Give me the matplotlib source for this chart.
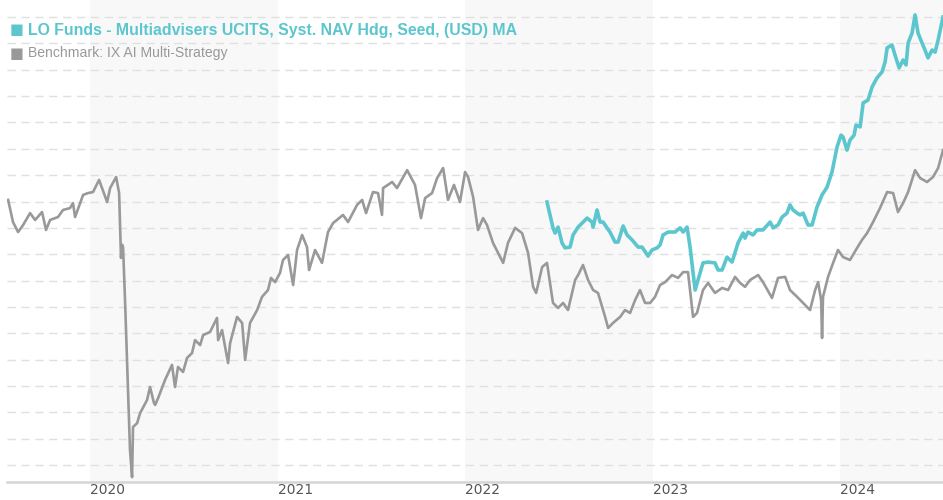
import matplotlib
matplotlib.use("Agg")
import matplotlib.pyplot as plt
import numpy as np

# ---- data (decimal years, index values) ----
bench_t = [2019.563, 2019.589, 2019.616, 2019.643, 2019.680, 2019.707, 2019.744, 2019.765, 2019.787,
           2019.829, 2019.856, 2019.893, 2019.909, 2019.920, 2019.963, 2019.989, 2020.016, 2020.048,
           2020.091, 2020.107, 2020.139, 2020.155, 2020.163, 2020.165, 2020.171, 2020.176, 2020.187,
           2020.213, 2020.224, 2020.229, 2020.251, 2020.267, 2020.304, 2020.320, 2020.341, 2020.347,
           2020.363, 2020.400, 2020.437, 2020.453, 2020.469, 2020.496, 2020.517, 2020.544, 2020.560,
           2020.587, 2020.603, 2020.640, 2020.677, 2020.683, 2020.704, 2020.736, 2020.747, 2020.784,
           2020.811, 2020.827, 2020.853, 2020.891, 2020.917, 2020.949, 2020.965, 2020.987, 2021.013,
           2021.029, 2021.056, 2021.083, 2021.104, 2021.131, 2021.157, 2021.168, 2021.200, 2021.237,
           2021.269, 2021.296, 2021.349, 2021.376, 2021.424, 2021.451, 2021.472, 2021.509, 2021.536,
           2021.557, 2021.563, 2021.611, 2021.637, 2021.691, 2021.733, 2021.765, 2021.787, 2021.824,
           2021.851, 2021.883, 2021.909, 2021.941, 2021.973, 2022.000, 2022.016, 2022.043, 2022.069,
           2022.096, 2022.117, 2022.149, 2022.203, 2022.229, 2022.267, 2022.304, 2022.336, 2022.363,
           2022.379, 2022.411, 2022.437, 2022.453, 2022.469, 2022.496, 2022.523, 2022.549, 2022.587,
           2022.603, 2022.629, 2022.656, 2022.683, 2022.709, 2022.747, 2022.763, 2022.789, 2022.827,
           2022.853, 2022.880, 2022.907, 2022.933, 2022.960, 2022.987, 2023.013, 2023.040, 2023.067,
           2023.104, 2023.136, 2023.163, 2023.189, 2023.200, 2023.216, 2023.237, 2023.269, 2023.296,
           2023.333, 2023.371, 2023.403, 2023.440, 2023.467, 2023.493, 2023.520, 2023.563, 2023.589,
           2023.637, 2023.669, 2023.707, 2023.733, 2023.771, 2023.803, 2023.840, 2023.867, 2023.883,
           2023.899, 2023.904, 2023.909, 2023.936, 2023.963, 2023.989, 2024.016, 2024.053, 2024.091,
           2024.117, 2024.144, 2024.176, 2024.213, 2024.251, 2024.283, 2024.309, 2024.336, 2024.363,
           2024.400, 2024.427, 2024.464, 2024.496, 2024.523, 2024.549]
bench_v = [110.6, 102.2, 98.4, 101.1, 105.6, 103.0, 106.0, 99.2, 103.0,
           104.1, 106.8, 107.5, 109.4, 104.1, 112.5, 113.2, 113.6, 118.2,
           109.8, 115.1, 119.3, 113.2, 94.0, 88.6, 93.6, 92.7, 71.5,
           15.7, 5.4, 24.4, 25.9, 29.7, 34.7, 39.6, 33.5, 32.8,
           35.4, 42.3, 48.0, 39.6, 47.2, 45.3, 50.6, 52.5, 57.4,
           55.5, 59.3, 60.5, 65.8, 57.4, 61.2, 48.7, 56.3, 66.2,
           63.9, 49.9, 63.9, 68.8, 73.8, 76.4, 81.0, 79.4, 82.9,
           87.8, 89.7, 78.3, 91.6, 97.3, 92.7, 84.0, 91.6, 86.7,
           98.4, 101.8, 104.9, 102.2, 108.7, 110.6, 105.6, 113.6, 113.2,
           104.9, 115.1, 117.4, 115.1, 121.9, 116.3, 103.7, 111.3, 113.2,
           118.9, 122.7, 110.6, 116.3, 109.8, 121.2, 119.3, 111.7, 99.2,
           103.7, 101.1, 94.3, 86.7, 94.3, 100.0, 98.0, 90.5, 77.6,
           75.3, 85.1, 86.7, 79.1, 71.5, 69.6, 71.5, 68.8, 80.2,
           82.1, 85.9, 80.2, 76.4, 75.3, 66.2, 62.0, 63.9, 66.2,
           68.8, 67.7, 72.6, 76.4, 71.5, 71.5, 73.8, 78.3, 79.4,
           82.1, 81.0, 83.2, 83.2, 76.4, 66.2, 67.7, 76.4, 79.1,
           75.3, 77.2, 76.4, 81.4, 79.1, 77.6, 80.2, 82.1, 79.4,
           73.4, 81.0, 81.4, 76.4, 73.8, 71.5, 68.8, 76.4, 79.4,
           72.6, 58.2, 73.8, 81.4, 86.7, 91.6, 88.9, 87.8, 92.4,
           95.4, 98.0, 102.2, 107.5, 113.6, 113.2, 106.0, 109.4, 113.6,
           121.9, 118.9, 117.4, 119.3, 122.7, 129.5]

fund_t = [2022.437, 2022.469, 2022.480, 2022.496, 2022.517, 2022.533, 2022.560, 2022.576, 2022.603,
          2022.651, 2022.677, 2022.683, 2022.704, 2022.720, 2022.736, 2022.757, 2022.773, 2022.800,
          2022.816, 2022.843, 2022.864, 2022.891, 2022.923, 2022.944, 2022.976, 2022.997, 2023.024,
          2023.040, 2023.056, 2023.083, 2023.120, 2023.147, 2023.163, 2023.184, 2023.200, 2023.227,
          2023.269, 2023.296, 2023.333, 2023.349, 2023.371, 2023.397, 2023.424, 2023.456, 2023.483,
          2023.493, 2023.509, 2023.536, 2023.557, 2023.589, 2023.627, 2023.643, 2023.669, 2023.691,
          2023.717, 2023.733, 2023.749, 2023.771, 2023.787, 2023.803, 2023.829, 2023.851, 2023.877,
          2023.904, 2023.931, 2023.957, 2023.984, 2024.005, 2024.016, 2024.037, 2024.053, 2024.075,
          2024.085, 2024.107, 2024.123, 2024.149, 2024.171, 2024.197, 2024.224, 2024.240, 2024.251,
          2024.277, 2024.293, 2024.315, 2024.336, 2024.352, 2024.363, 2024.384, 2024.400, 2024.416,
          2024.437, 2024.453, 2024.469, 2024.491, 2024.507, 2024.523, 2024.549]
fund_v = [109.8, 100.0, 98.0, 100.3, 94.3, 92.4, 92.7, 97.3, 100.3,
          103.7, 102.2, 100.3, 106.8, 102.2, 102.2, 100.0, 98.4, 94.6,
          94.6, 100.7, 97.3, 95.4, 92.7, 92.7, 89.3, 91.6, 92.4,
          93.5, 97.3, 98.4, 98.4, 100.0, 98.4, 100.3, 92.7, 76.4,
          86.7, 87.0, 86.7, 84.0, 84.0, 88.9, 87.0, 94.3, 98.0,
          96.1, 98.4, 97.3, 99.2, 99.2, 102.2, 100.0, 101.1, 104.1,
          105.6, 108.7, 106.8, 105.6, 104.9, 105.6, 101.1, 101.1, 107.9,
          112.5, 115.5, 121.2, 130.7, 135.2, 134.5, 129.5, 133.3, 135.2,
          139.0, 138.3, 147.4, 148.5, 153.5, 156.9, 159.2, 162.9, 168.3,
          169.4, 165.6, 160.7, 163.7, 161.8, 170.2, 173.9, 180.8, 173.9,
          170.2, 167.5, 164.5, 167.5, 166.7, 171.3, 180.0]

years = [2020, 2021, 2022, 2023, 2024]
shaded_years = [2020, 2022, 2024]
fund_label = "LO Funds - Multiadvisers UCITS, Syst. NAV Hdg, Seed, (USD) MA"
bench_label = "Benchmark: IX AI Multi-Strategy"
grid_levels = list(range(10, 190, 10))

TEAL = "#5bc6cd"
GREY = "#999999"

fig = plt.figure(figsize=(9.43, 5.00), dpi=100)
ax = fig.add_axes([7 / 943, 18 / 500, 936 / 943, 482 / 500])

xmin, xmax = 2019.557, 2024.549
ax.set_xlim(xmin, xmax)
ax.set_ylim(3.55, 186.47)

for y in shaded_years:
    ax.axvspan(y, y + 1, color="#f8f8f8", zorder=0, lw=0)

for g in grid_levels:
    ax.axhline(g, color="#e0e0e0", lw=1.0, ls=(0, (6, 4)), zorder=1)

ax.plot(bench_t, bench_v, color=GREY, lw=1.9, zorder=3, solid_joinstyle="round")
ax.plot(fund_t, fund_v, color=TEAL, lw=2.6, zorder=4, solid_joinstyle="round")

for s in ["top", "right", "left"]:
    ax.spines[s].set_visible(False)
ax.spines["bottom"].set_color("#d5d5d5")
ax.spines["bottom"].set_linewidth(1.8)
ax.set_yticks([])
ax.set_xticks(years)
ax.set_xticklabels([str(y) for y in years], ha="left", fontsize=10, color="#555555",
                   fontfamily="DejaVu Sans")
ax.tick_params(axis="x", length=0, pad=1)

fig.text(10 / 943, 1 - 30 / 500, "\u25A0", color=TEAL, fontsize=10.5, va="center", ha="left",
         fontfamily="DejaVu Sans")
fig.text(28 / 943, 1 - 30 / 500, fund_label, color=TEAL, fontsize=11.4, fontweight="bold",
         va="center", ha="left", fontfamily="Liberation Sans")
fig.text(10 / 943, 1 - 53 / 500, "\u25A0", color=GREY, fontsize=10.5, va="center", ha="left",
         fontfamily="DejaVu Sans")
fig.text(28 / 943, 1 - 53 / 500, bench_label, color=GREY, fontsize=10.1,
         va="center", ha="left", fontfamily="Liberation Sans")

fig.savefig("out.png", dpi=100)
